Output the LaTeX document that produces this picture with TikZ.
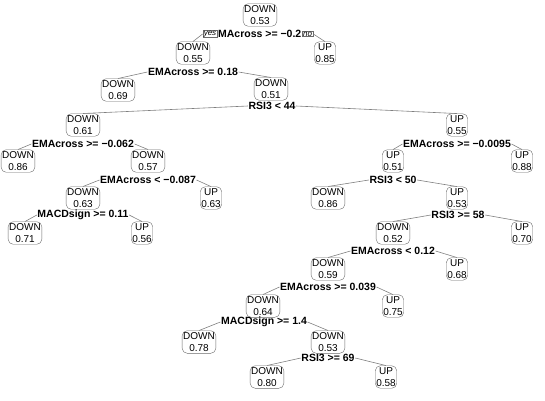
\documentclass[tikz,border=0pt]{standalone}
\usepackage{fontspec}
\setmainfont{Liberation Sans}
\definecolor{TreeGray}{HTML}{6A6A6A}
\definecolor{BranchGray}{HTML}{808080}

\begin{document}
\begin{tikzpicture}[
  x=1pt,y=-1pt,
  nodebox/.style={rounded corners=5pt,draw=TreeGray,fill=white,inner xsep=1pt,inner ysep=1.5pt,align=center,font=\fontsize{10}{12.5}\selectfont},
  splitlabel/.style={inner sep=0.5pt,font=\bfseries\fontsize{10.5}{12}\selectfont},
  yesno/.style={draw=TreeGray,fill=white,inner xsep=1pt,inner ysep=0.5pt,font=\itshape\fontsize{8}{8}\selectfont},
  branch/.style={draw=BranchGray,line width=0.6pt}
]
\useasboundingbox (0,0) rectangle (545,400);
% tree nodes
\node[nodebox] (n1) at (260,15) {DOWN\\0.53};
\node[nodebox] (n2) at (193,53) {DOWN\\0.55};
\node[nodebox] (n3) at (325,53) {UP\\0.85};
\node[nodebox] (n4) at (118,90) {DOWN\\0.69};
\node[nodebox] (n5) at (271,89) {DOWN\\0.51};
\node[nodebox] (n10) at (83,125) {DOWN\\0.61};
\node[nodebox] (n11) at (457,125) {UP\\0.55};
\node[nodebox] (n20) at (18,161) {DOWN\\0.86};
\node[nodebox] (n21) at (148,161) {DOWN\\0.57};
\node[nodebox] (n22) at (393,161) {UP\\0.51};
\node[nodebox] (n23) at (522,161) {UP\\0.88};
\node[nodebox] (n42) at (83,198) {DOWN\\0.63};
\node[nodebox] (n43) at (211,198) {UP\\0.63};
\node[nodebox] (n44) at (328,198) {DOWN\\0.86};
\node[nodebox] (n45) at (457,198) {UP\\0.53};
\node[nodebox] (n84) at (25,233) {DOWN\\0.71};
\node[nodebox] (n85) at (142,233) {UP\\0.56};
\node[nodebox] (n90) at (393,233) {DOWN\\0.52};
\node[nodebox] (n91) at (522,233) {UP\\0.70};
\node[nodebox] (n180) at (328,269) {DOWN\\0.59};
\node[nodebox] (n181) at (457,269) {UP\\0.68};
\node[nodebox] (n360) at (263,306) {DOWN\\0.64};
\node[nodebox] (n361) at (393,306) {UP\\0.75};
\node[nodebox] (n720) at (199,342) {DOWN\\0.78};
\node[nodebox] (n721) at (328,342) {DOWN\\0.53};
\node[nodebox] (n1442) at (267,377) {DOWN\\0.80};
\node[nodebox] (n1443) at (386,377) {UP\\0.58};
% split labels
\node[splitlabel,anchor=east] (s1) at (302,34) {MAcross >= −0.2};
\node[splitlabel] (s2) at (193,72) {EMAcross >= 0.18};
\node[splitlabel] (s5) at (272,106) {RSI3 < 44};
\node[splitlabel] (s10) at (83,144) {EMAcross >= −0.062};
\node[splitlabel] (s11) at (457,144) {EMAcross >= −0.0095};
\node[splitlabel] (s21) at (148,180) {EMAcross < −0.087};
\node[splitlabel] (s22) at (393,180) {RSI3 < 50};
\node[splitlabel] (s42) at (83,215) {MACDsign >= 0.11};
\node[splitlabel] (s45) at (458,215) {RSI3 >= 58};
\node[splitlabel] (s90) at (393,251) {EMAcross < 0.12};
\node[splitlabel] (s180) at (328,287) {EMAcross >= 0.039};
\node[splitlabel] (s360) at (264,322) {MACDsign >= 1.4};
\node[splitlabel] (s721) at (328,358) {RSI3 >= 69};
\node[yesno,anchor=east] (yes) at (s1.west) {yes};
\node[yesno,anchor=west] (no) at (s1.east) {no};
% branches
\draw[branch] (yes.west)--(n2.north); \draw[branch] (no.east)--(n3.north);
\draw[branch] (s2.west)--(n4.north); \draw[branch] (s2.east)--(n5.north);
\draw[branch] (s5.west)--(n10.north); \draw[branch] (s5.east)--(n11.north);
\draw[branch] (s10.west)--(n20.north); \draw[branch] (s10.east)--(n21.north);
\draw[branch] (s11.west)--(n22.north); \draw[branch] (s11.east)--(n23.north);
\draw[branch] (s21.west)--(n42.north); \draw[branch] (s21.east)--(n43.north);
\draw[branch] (s22.west)--(n44.north); \draw[branch] (s22.east)--(n45.north);
\draw[branch] (s42.west)--(n84.north); \draw[branch] (s42.east)--(n85.north);
\draw[branch] (s45.west)--(n90.north); \draw[branch] (s45.east)--(n91.north);
\draw[branch] (s90.west)--(n180.north); \draw[branch] (s90.east)--(n181.north);
\draw[branch] (s180.west)--(n360.north); \draw[branch] (s180.east)--(n361.north);
\draw[branch] (s360.west)--(n720.north); \draw[branch] (s360.east)--(n721.north);
\draw[branch] (s721.west)--(n1442.north); \draw[branch] (s721.east)--(n1443.north);
\end{tikzpicture}
\end{document}
